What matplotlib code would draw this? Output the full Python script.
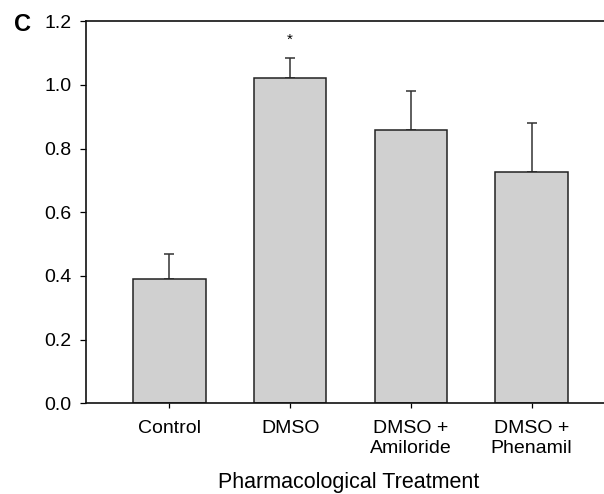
import matplotlib.pyplot as plt
import numpy as np

plt.rcParams['font.family'] = ['Liberation Sans', 'DejaVu Sans']

# treatment groups and measured means with upper error (SEM)
groups = ['Control', 'DMSO', 'DMSO +\nAmiloride', 'DMSO +\nPhenamil']
means = [0.39, 1.023, 0.858, 0.728]
err_top = [0.470, 1.086, 0.980, 0.882]
sig_marks = ['', '*', '', '']

errs = [t - m for t, m in zip(err_top, means)]
x = np.arange(len(groups))

fig = plt.figure(figsize=(6.04, 4.94), dpi=100)
ax = fig.add_axes([0.1419, 0.1836, 0.8581, 0.7733])

ax.bar(x, means, width=0.6, color='#d0d0d0', edgecolor='#222222', linewidth=1.1, zorder=2)
ax.errorbar(x, means, yerr=[np.zeros(len(x)), errs], fmt='none', ecolor='#333333',
            elinewidth=1.1, capsize=3.7, capthick=1.1, zorder=1)

for xi, t, s in zip(x, err_top, sig_marks):
    if s:
        ax.text(xi, t + 0.055, s, ha='center', va='center', fontsize=11)

ax.set_xlim(-0.694, 3.6)
ax.set_ylim(0, 1.2)
ax.set_yticks(np.arange(0, 1.21, 0.2))
ax.set_yticklabels([f'{v:.1f}' for v in np.arange(0, 1.21, 0.2)])
ax.set_xticks(x)
ax.set_xticklabels(groups, linespacing=1.25)

ax.tick_params(axis='y', direction='out', length=4.3, width=0.9, pad=6, labelsize=14)
ax.tick_params(axis='x', direction='out', length=3.5, width=0.9, pad=8.5, labelsize=14)

ax.spines['right'].set_visible(False)
for side in ['left', 'bottom', 'top']:
    ax.spines[side].set_linewidth(1.2)
    ax.spines[side].set_color('#111111')

ax.set_xlabel('Pharmacological Treatment', fontsize=15.5)
ax.xaxis.set_label_coords(0.508, -0.181)

fig.text(0.024, 0.973, 'C', fontsize=17, fontweight='bold', va='top', ha='left')

fig.savefig('out.png', dpi=100)
